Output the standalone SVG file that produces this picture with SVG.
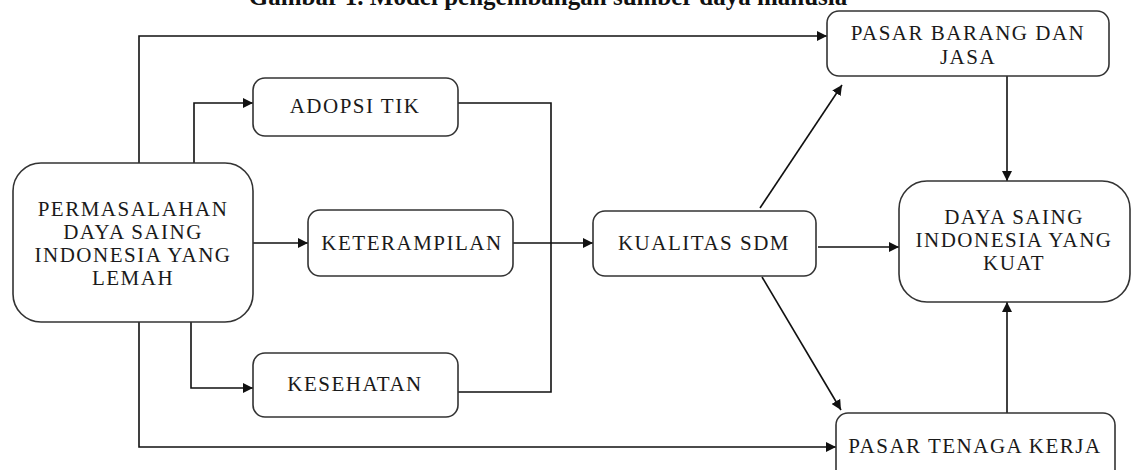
<svg xmlns="http://www.w3.org/2000/svg" width="1133" height="470" viewBox="0 0 1133 470">
<style>
.box{fill:#fff;stroke:#333;stroke-width:1.6}
.t{font-family:"Liberation Serif","Times New Roman",serif;font-size:21px;letter-spacing:1.5px;fill:#1a1a1a;text-anchor:middle}
.c{fill:none;stroke:#111;stroke-width:1.6}
.title{font-family:"Liberation Serif","Times New Roman",serif;font-size:25px;font-weight:bold;fill:#111;text-anchor:middle}
</style>
<defs>
<marker id="ah" viewBox="0 0 10 10" refX="10" refY="5" markerWidth="10" markerHeight="10" markerUnits="userSpaceOnUse" orient="auto">
<path d="M0,0 L10,5 L0,10 z" fill="#111"/>
</marker>
</defs>
<rect width="1133" height="470" fill="#fff"/>
<text class="title" x="548" y="5">Gambar 1. Model pengembangan sumber daya manusia</text>
<g id="connectors">
<path class="c" d="M139,163 V36 H827" marker-end="url(#ah)"/>
<path class="c" d="M194,163 V103 H253" marker-end="url(#ah)"/>
<path class="c" d="M253,243 H308" marker-end="url(#ah)"/>
<path class="c" d="M191,322 V388 H253" marker-end="url(#ah)"/>
<path class="c" d="M139,322 V447 H836" marker-end="url(#ah)"/>
<path class="c" d="M458,103 H551 V392 H458"/>
<path class="c" d="M513,243 H593" marker-end="url(#ah)"/>
<path class="c" d="M818,247 H899" marker-end="url(#ah)"/>
<path class="c" d="M760,208 L842,85" marker-end="url(#ah)"/>
<path class="c" d="M762,277 L841,410" marker-end="url(#ah)"/>
<path class="c" d="M1007,76 V181" marker-end="url(#ah)"/>
<path class="c" d="M1007,413 V302" marker-end="url(#ah)"/>
</g>
<g id="permasalahan">
<rect class="box" x="13" y="163" width="240" height="159" rx="28"/>
<text class="t" x="133" y="216">PERMASALAHAN</text>
<text class="t" x="133" y="239">DAYA SAING</text>
<text class="t" x="133" y="262">INDONESIA YANG</text>
<text class="t" x="133" y="285">LEMAH</text>
</g>
<g id="adopsi">
<rect class="box" x="253" y="78" width="205" height="58" rx="12"/>
<text class="t" x="355" y="113">ADOPSI TIK</text>
</g>
<g id="keterampilan">
<rect class="box" x="308" y="210" width="205" height="66" rx="12"/>
<text class="t" x="412" y="250">KETERAMPILAN</text>
</g>
<g id="kesehatan">
<rect class="box" x="253" y="353" width="205" height="64" rx="12"/>
<text class="t" x="355" y="391">KESEHATAN</text>
</g>
<g id="kualitas">
<rect class="box" x="593" y="211" width="223" height="65" rx="12"/>
<text class="t" x="704" y="250">KUALITAS SDM</text>
</g>
<g id="pasar-barang">
<rect class="box" x="827" y="11" width="282" height="65" rx="12"/>
<text class="t" x="968" y="40">PASAR BARANG DAN</text>
<text class="t" x="968" y="64">JASA</text>
</g>
<g id="daya-saing-kuat">
<rect class="box" x="899" y="181" width="231" height="121" rx="28"/>
<text class="t" x="1014" y="224">DAYA SAING</text>
<text class="t" x="1014" y="247">INDONESIA YANG</text>
<text class="t" x="1014" y="270">KUAT</text>
</g>
<g id="pasar-tenaga">
<rect class="box" x="836" y="413" width="279" height="70" rx="12"/>
<text class="t" x="975" y="453">PASAR TENAGA KERJA</text>
</g>
</svg>
